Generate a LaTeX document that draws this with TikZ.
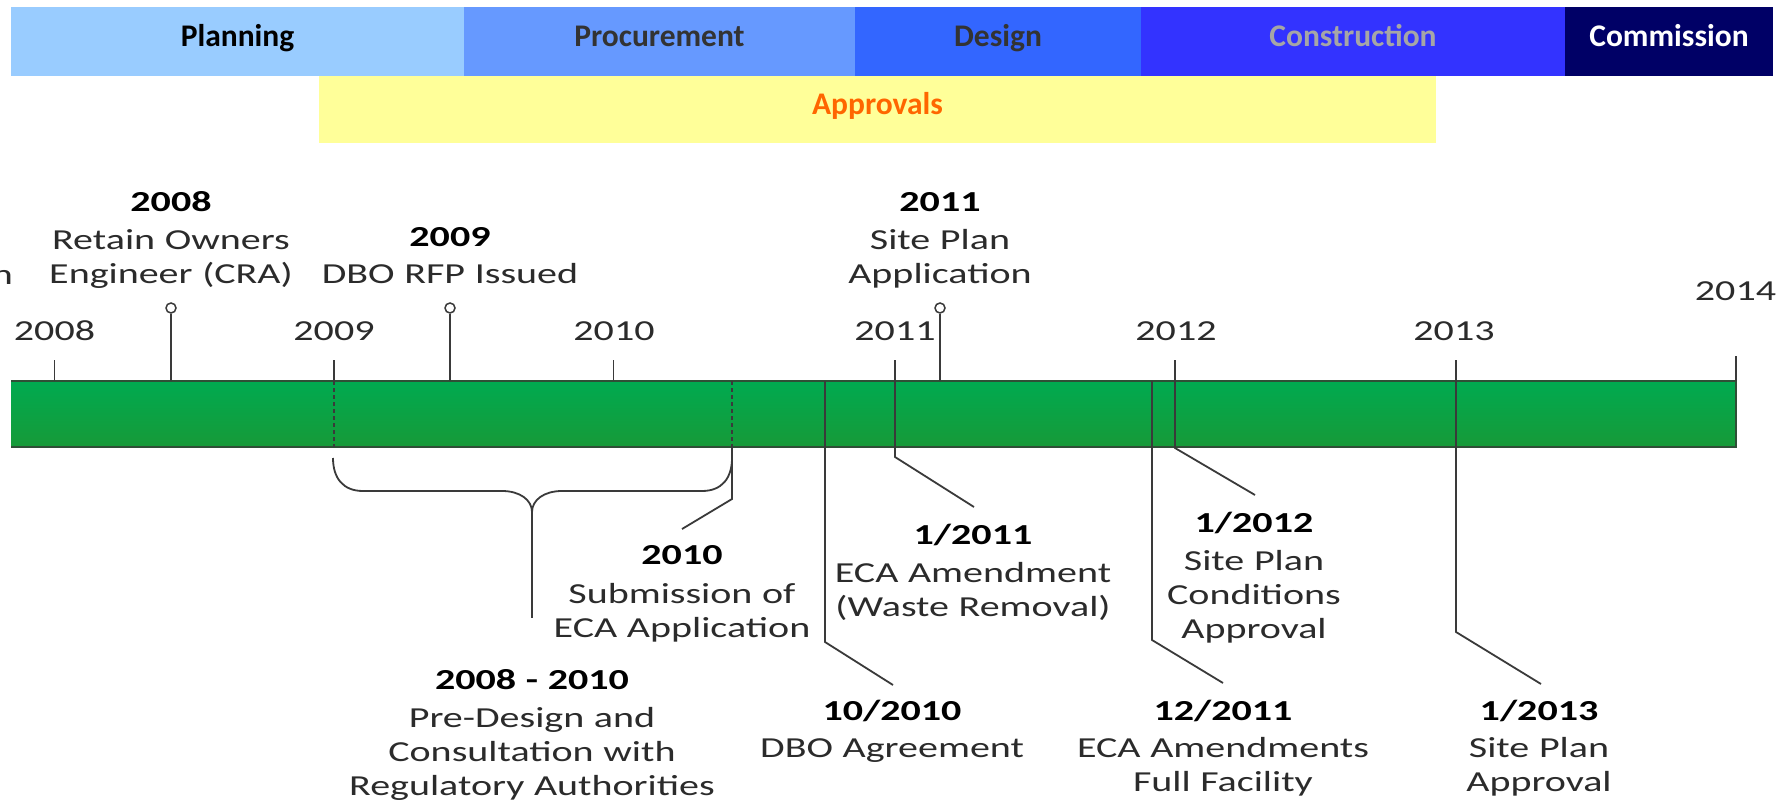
\documentclass[tikz,border=0pt]{standalone}
\usepackage{fontspec}
\newfontfamily\tlfont[FakeStretch=1.38]{Carlito}
\newfontfamily\barfont{Carlito}
\definecolor{cPlan}{HTML}{99CCFF}
\definecolor{cProc}{HTML}{6699FF}
\definecolor{cDes}{HTML}{3366FF}
\definecolor{cCon}{HTML}{3333FF}
\definecolor{cCom}{HTML}{000066}
\definecolor{cAppr}{HTML}{FFFF99}
\definecolor{cApprTxt}{HTML}{FF6600}
\definecolor{cConTxt}{HTML}{A6A6A6}
\definecolor{cDark}{HTML}{333333}
\definecolor{gTop}{HTML}{00AA50}
\definecolor{gBot}{HTML}{179A38}
\definecolor{gEdge}{HTML}{2F4F36}
\definecolor{lineC}{HTML}{3A3A3A}
\definecolor{txtC}{HTML}{2B2B2B}
\begin{document}
\begin{tikzpicture}[x=1pt,y=-1pt,
  phase/.style={inner sep=0pt, outer sep=0pt, minimum height=69pt, text height=20pt, text depth=9pt,
    font=\barfont\bfseries\fontsize{31.5}{36}\selectfont},
  lab/.style={inner sep=0pt, outer sep=0pt, anchor=base, text width=420pt, align=center, text=txtC,
    font=\tlfont\fontsize{29}{34}\selectfont},
  yearlab/.style={inner sep=0pt, outer sep=0pt, anchor=base, text=txtC, font=\tlfont\fontsize{29}{34}\selectfont},
  conn/.style={draw=lineC, line width=1.8pt},
  dashconn/.style={draw=lineC, line width=1.8pt, dash pattern=on 4pt off 3pt},
  pin/.style={circle, draw=lineC, fill=white, line width=1.5pt, minimum size=10pt, inner sep=0pt}
]
\useasboundingbox (0,0) rectangle (1784,802);
\fill[white] (0,0) rectangle (1784,802);

% phase bars
\node[phase, fill=cPlan, minimum width=453pt] (plan) at (237.5,41.5) {Planning};
\node[phase, fill=cProc, minimum width=391pt, text=cDark] (proc) at (659.5,41.5) {Procurement};
\node[phase, fill=cDes, minimum width=286pt, text=cDark] (des) at (998,41.5) {Design};
\node[phase, fill=cCon, minimum width=424pt, text=cConTxt] (con) at (1353,41.5) {Construction};
\node[phase, fill=cCom, minimum width=208pt, text=white] (com) at (1669,41.5) {Commission};
\node[phase, fill=cAppr, minimum width=1117pt, minimum height=67pt, text=cApprTxt] (appr) at (877.5,109.5) {Approvals};

% timeline bar
\shade[top color=gTop, bottom color=gBot] (11,381) rectangle (1736,447);
\draw[gEdge, line width=1.8pt] (11,381) -- (1736,381) -- (1736,447) -- (11,447);

% coordinates
\coordinate (t2008) at (54.5,360);  \coordinate (b2008) at (54.5,381);
\coordinate (t2009) at (334,360);   \coordinate (b2009) at (334,381);  \coordinate (d2009) at (334,447);
\coordinate (t2010) at (613.5,360); \coordinate (b2010) at (613.5,381);
\coordinate (t2011) at (895,360);   \coordinate (k2011) at (895,457);  \coordinate (e2011) at (974,507);
\coordinate (t2012) at (1175,360);  \coordinate (k2012) at (1175,448); \coordinate (e2012) at (1255,495);
\coordinate (t2013) at (1456,360);  \coordinate (k2013) at (1456,632); \coordinate (e2013) at (1541,684);
\coordinate (t2014) at (1736,356);  \coordinate (b2014) at (1736,381);
\coordinate (s1010) at (825,381);   \coordinate (k1010) at (825,642);  \coordinate (e1010) at (893,685);
\coordinate (s1211) at (1152,381);  \coordinate (k1211) at (1152,640); \coordinate (e1211) at (1223,683);
\coordinate (s2010) at (732,381);   \coordinate (m2010) at (732,447);  \coordinate (k2010) at (732,499); \coordinate (e2010) at (682,529);
\coordinate (bl) at (333,458); \coordinate (bm) at (532,512); \coordinate (br) at (732,458); \coordinate (bs) at (532,618);

% year ticks
\draw[conn] (t2008) -- (b2008);
\draw[conn] (t2009) -- (b2009);
\draw[dashconn] (b2009) -- (d2009);
\draw[conn] (t2010) -- (b2010);
\draw[conn] (t2011) -- (k2011) -- (e2011);
\draw[conn] (t2012) -- (k2012) -- (e2012);
\draw[conn] (t2013) -- (k2013) -- (e2013);
\draw[conn] (t2014) -- (b2014);
\draw[conn] (s1010) -- (k1010) -- (e1010);
\draw[conn] (s1211) -- (k1211) -- (e1211);
\draw[dashconn] (s2010) -- (m2010);
\draw[conn] (m2010) -- (k2010) -- (e2010);

% brace
\draw[conn, line join=round] (bl) .. controls (333,478) and (343,491) .. (363,491) -- (502,491)
  .. controls (520,491) and (532,500) .. (bm)
  .. controls (532,500) and (544,491) .. (562,491) -- (702,491)
  .. controls (722,491) and (732,478) .. (br);
\draw[conn] (bm) -- (bs);

% pins
\node[pin] (p1) at (171,308) {};  \coordinate (p1b) at (171,381);
\node[pin] (p2) at (450,308) {};  \coordinate (p2b) at (450,381);
\node[pin] (p3) at (940,308) {};  \coordinate (p3b) at (940,381);
\draw[conn] (p1) -- (p1b);
\draw[conn] (p2) -- (p2b);
\draw[conn] (p3) -- (p3b);

% year labels
\node[yearlab] (y2008) at (54.5,340) {2008};
\node[yearlab] (y2009) at (334,340) {2009};
\node[yearlab] (y2010) at (614,340) {2010};
\node[yearlab] (y2011) at (895,340) {2011};
\node[yearlab] (y2012) at (1176,340) {2012};
\node[yearlab] (y2013) at (1454,340) {2013};
\node[yearlab] (y2014) at (1735.5,300) {2014};
\node[yearlab, anchor=base east] (ncut) at (13,284) {n};

% event labels
\node[lab] (ev2008) at (171,212) {{\bfseries\color{black}2008}\\[4pt] Retain Owners\\ Engineer (CRA)};
\node[lab] (ev2009) at (450,247) {{\bfseries\color{black}2009}\\[3pt] DBO RFP Issued};
\node[lab] (ev2011) at (940,212) {{\bfseries\color{black}2011}\\[4pt] Site Plan\\ Application};
\node[lab] (ev2010) at (682,564) {{\bfseries\color{black}2010}\\[5pt] Submission of\\ ECA Application};
\node[lab] (ev0810) at (532,689) {{\bfseries\color{black}2008 - 2010}\\[4pt] Pre-Design and\\ Consultation with\\ Regulatory Authorities};
\node[lab] (ev1010) at (892,720) {{\bfseries\color{black}10/2010}\\[3pt] DBO Agreement};
\node[lab] (ev0111) at (973,544) {{\bfseries\color{black}1/2011}\\[4pt] ECA Amendment\\ (Waste Removal)};
\node[lab] (ev0112) at (1254,532) {{\bfseries\color{black}1/2012}\\[4pt] Site Plan\\ Conditions\\ Approval};
\node[lab] (ev1211) at (1223,720) {{\bfseries\color{black}12/2011}\\[3pt] ECA Amendments\\ Full Facility};
\node[lab] (ev0113) at (1539,720) {{\bfseries\color{black}1/2013}\\[3pt] Site Plan\\ Approval};
\end{tikzpicture}
\end{document}
